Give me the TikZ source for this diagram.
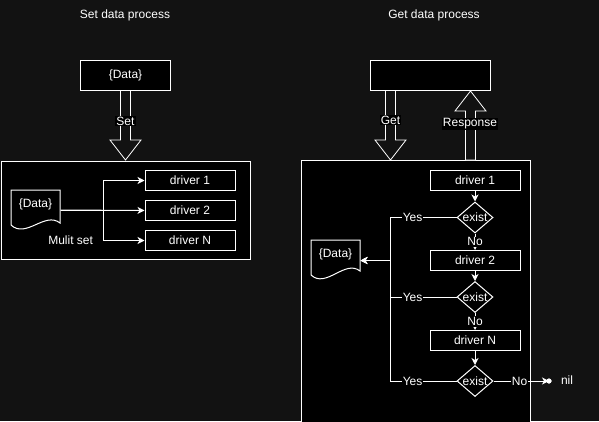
\documentclass[tikz,border=0pt]{standalone}
\usepackage{fontspec}
\setmainfont{Liberation Sans}
\usetikzlibrary{arrows.meta,shapes.geometric}
\definecolor{bg}{HTML}{121212}
\begin{document}
\begin{tikzpicture}[x=1pt,y=-1pt,
  font=\fontsize{12}{14}\selectfont, text=white,
  line width=1pt,
  box/.style={draw=white, fill=black, minimum width=90pt, minimum height=20pt, inner sep=0pt},
  cont/.style={draw=white, fill=black},
  decide/.style={shape=diamond, draw=white, fill=black, minimum width=36pt, minimum height=31pt, inner sep=0pt},
  docnode/.style={minimum width=49pt, minimum height=40pt, inner sep=0pt},
  docline/.style={draw=white, fill=black},
  arr/.style={draw=white, -{Stealth[length=7pt,width=7pt,inset=2pt]}},
  plain/.style={draw=white},
  lbl/.style={fill=black, inner sep=1pt, text=white},
  blockarrow/.style={draw=white, fill=bg, line width=0.8pt, line join=miter}
]
\useasboundingbox (0,0) rectangle (599,421);
\clip (0,0) rectangle (599,421);
\fill[bg] (0,0) rectangle (599,421);

% titles
\node (t1) at (125,15) {Set data process};
\node (t2) at (434,15) {Get data process};

% ---------- left: set ----------
\node[box, minimum width=90pt, minimum height=30pt] (ltop) at (125.5,75) {\{Data\}};
\draw[cont] (1,161) rectangle (250,259);
\node[docnode] (ldoc) at (35.5,210) {};
\draw[docline] (11,190) -- (60,190) -- (60,223) .. controls (45,211) and (26,239) .. (11,225) -- cycle;
\node at (35.5,204) {\{Data\}};

\node[box] (d1) at (190,180.5) {driver 1};
\node[box] (d2) at (190,210.5) {driver 2};
\node[box] (dN) at (190,240.5) {driver N};

\draw[arr] (ldoc.east) -- (d2.west);
\draw[arr] (ldoc.east) -- ++(43,0) |- (d1.west);
\draw[arr] (ldoc.east) -- ++(43,0) |- node[pos=0.5, anchor=east, xshift=-9pt, inner sep=1pt]{Mulit set} (dN.west);

% block arrow Set
\draw[blockarrow] ([xshift=-5pt]ltop.south) -- (120.5,140) -- (110,140) -- (125.5,160) -- (141,140) -- (130.5,140) -- ([xshift=5pt]ltop.south) -- cycle;
\node[lbl] (setl) at (125.5,121) {Set};

% ---------- right: get ----------
\node[box, minimum width=120pt, minimum height=30pt] (rtop) at (430,75) {};
\draw[cont] (301,160.5) rectangle (530,440);

\node[box] (r1) at (475,180.5) {driver 1};
\node[decide, label={center:exist}] (e1) at (475,217.5) {};
\node[box] (r2) at (475,260.5) {driver 2};
\node[decide, label={center:exist}] (e2) at (475,297) {};
\node[box] (rN) at (475,340.5) {driver N};
\node[decide, label={center:exist}] (e3) at (475,381) {};

\node[docnode] (rdoc) at (335.5,260.5) {};
\draw[docline] (311,240) -- (360,240) -- (360,271) .. controls (345,259) and (326,289) .. (311,275) -- cycle;
\node at (335.5,254) {\{Data\}};

\coordinate (vx) at (390,260);

\draw[arr] (r1.south) -- (e1.north);
\draw[arr] (e1.south) -- node[lbl]{No} (r2.north);
\draw[arr] (r2.south) -- (e2.north);
\draw[arr] (e2.south) -- node[lbl]{No} (rN.north);
\draw[arr] (rN.south) -- (e3.north);

\draw[arr] (e1.west) -- node[lbl,pos=0.66]{Yes} (e1.west -| vx) |- (rdoc.east);
\draw[arr] (e2.west) -- node[lbl,pos=0.66]{Yes} (e2.west -| vx) |- (rdoc.east);
\draw[arr] (e3.west) -- node[lbl,pos=0.66]{Yes} (e3.west -| vx) |- (rdoc.east);

\node[circle, fill=white, inner sep=0pt, minimum size=5pt] (dot) at (549,381) {};
\draw[arr] (e3.east) -- node[lbl,pos=0.47]{No} (dot.center);
\fill[white] (dot.center) circle (2.5pt);
\node (nil) at (567,380) {nil};

% block arrow Get
\draw[blockarrow] ([xshift=-5pt]rtop.south -| 390.5,0) -- (385.5,140) -- (375,140) -- (390.5,160) -- (406,140) -- (395.5,140) -- (395.5,90.5) -- cycle;
\node[lbl] (getl) at (390.5,120) {Get};

% block arrow Response
\draw[blockarrow] (465.5,160) -- (465.5,111) -- (455,111) -- (470.5,91) -- (486,111) -- (475.5,111) -- (475.5,160) -- cycle;
\node[lbl] (respl) at (470,124) {Response};
\end{tikzpicture}
\end{document}
